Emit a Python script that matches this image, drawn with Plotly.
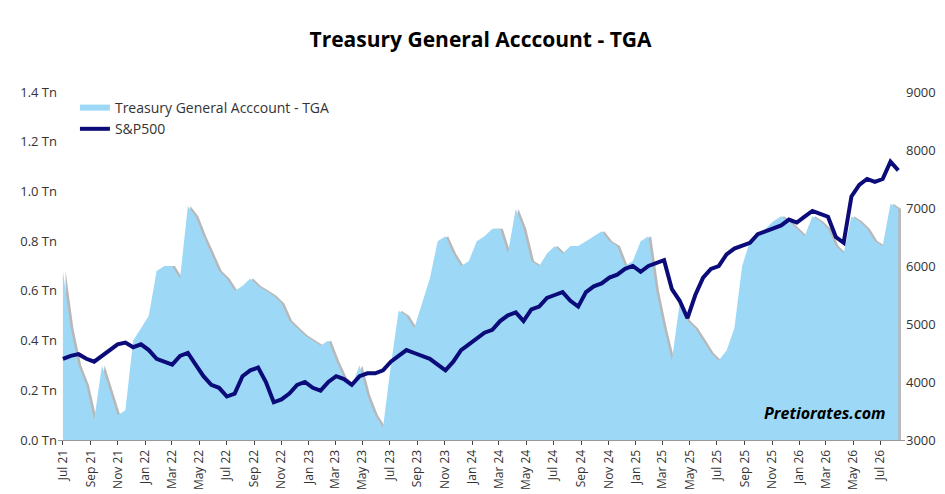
# Treasury General Account vs S&P500
import pandas as pd
import plotly.graph_objects as go

# TGA (Tn), geschätzt
tga = [0.68, 0.45, 0.30, 0.22, 0.08, 0.30, 0.20, 0.10, 0.12, 0.40, 0.45, 0.50,
       0.68, 0.70, 0.70, 0.65, 0.94, 0.90, 0.82, 0.75, 0.68, 0.65, 0.60, 0.62,
       0.65, 0.62, 0.60, 0.58, 0.55, 0.48, 0.45, 0.42, 0.40, 0.38, 0.40, 0.32,
       0.25, 0.22, 0.30, 0.18, 0.10, 0.05, 0.30, 0.52, 0.50, 0.45, 0.55, 0.65,
       0.80, 0.82, 0.75, 0.70, 0.72, 0.80, 0.82, 0.85, 0.85, 0.75, 0.93, 0.85,
       0.72, 0.70, 0.75, 0.78, 0.75, 0.78, 0.78, 0.80, 0.82, 0.84, 0.80, 0.78,
       0.70, 0.72, 0.80, 0.82, 0.60, 0.45, 0.32, 0.55, 0.48, 0.45, 0.40, 0.35,
       0.32, 0.36, 0.45, 0.70, 0.80, 0.82, 0.85, 0.88, 0.90, 0.88, 0.85, 0.82,
       0.90, 0.88, 0.85, 0.78, 0.75, 0.90, 0.88, 0.85, 0.80, 0.78, 0.95, 0.93]

# S&P500, geschätzt
spx = [4400, 4450, 4480, 4400, 4350, 4450, 4550, 4650, 4680, 4600, 4650, 4550,
       4400, 4350, 4300, 4450, 4500, 4300, 4100, 3950, 3900, 3750, 3800, 4100,
       4200, 4250, 4000, 3650, 3700, 3800, 3950, 4000, 3900, 3850, 4000, 4100,
       4050, 3950, 4100, 4150, 4150, 4200, 4350, 4450, 4550, 4500, 4450, 4400,
       4300, 4200, 4350, 4550, 4650, 4750, 4850, 4900, 5050, 5150, 5200, 5050,
       5250, 5300, 5450, 5500, 5550, 5400, 5300, 5550, 5650, 5700, 5800, 5850,
       5950, 6000, 5900, 6000, 6050, 6100, 5600, 5400, 5100, 5500, 5800, 5950,
       6000, 6200, 6300, 6350, 6400, 6550, 6600, 6650, 6700, 6800, 6750, 6850,
       6950, 6900, 6850, 6500, 6400, 7200, 7400, 7500, 7450, 7500, 7800, 7650]

dates = pd.date_range('2021-07-01', '2026-08-10', periods=len(tga))
df = pd.DataFrame({'date': dates, 'tga': tga, 'spx': spx})

fig = go.Figure()
fig.add_trace(go.Scatter(x=df['date'] + pd.Timedelta(days=6), y=df['tga'],
                         fill='tozeroy', mode='none', fillcolor='#b8b8b8',
                         showlegend=False, hoverinfo='skip'))  # Schatten
fig.add_trace(go.Scatter(x=df['date'], y=df['tga'], fill='tozeroy', mode='none',
                         fillcolor='#9dd9f7', name='Treasury General Acccount - TGA'))
fig.add_trace(go.Scatter(x=df['date'], y=df['spx'], mode='lines', yaxis='y2',
                         line=dict(color='#0b0b7a', width=4), name='S&P500'))

fig.update_layout(
    title=dict(text='<b>Treasury General Acccount - TGA</b>', x=0.5, y=0.95,
               font=dict(size=21, color='black')),
    width=945, height=494,
    margin=dict(l=50, r=48, t=84, b=57),
    plot_bgcolor='white', paper_bgcolor='white',
    font=dict(family='Open Sans', size=13, color='#333'),
    legend=dict(x=0.02, y=1.0, bgcolor='rgba(0,0,0,0)', font=dict(size=14),
                tracegroupgap=20),
    xaxis=dict(tickformat='%b %y', dtick='M2', tick0='2021-07-01', tickangle=-90,
               range=['2021-06-20', '2026-08-25'], showgrid=False,
               showline=True, linecolor='#999', ticks='outside', ticklen=4,
               tickfont=dict(size=12)),
    yaxis=dict(range=[0, 1.4], dtick=0.2, tickformat='.1f', ticksuffix=' Tn',
               showgrid=False, zeroline=False),
    yaxis2=dict(range=[3000, 9000], dtick=1000, overlaying='y', side='right',
                showgrid=False, zeroline=False),
)
fig.add_annotation(text='<b><i>Pretiorates.com</i></b>', x=0.98, y=0.04,
                   xref='paper', yref='paper', showarrow=False,
                   font=dict(size=16, color='black'), xanchor='right')

fig.write_html('out.html')
